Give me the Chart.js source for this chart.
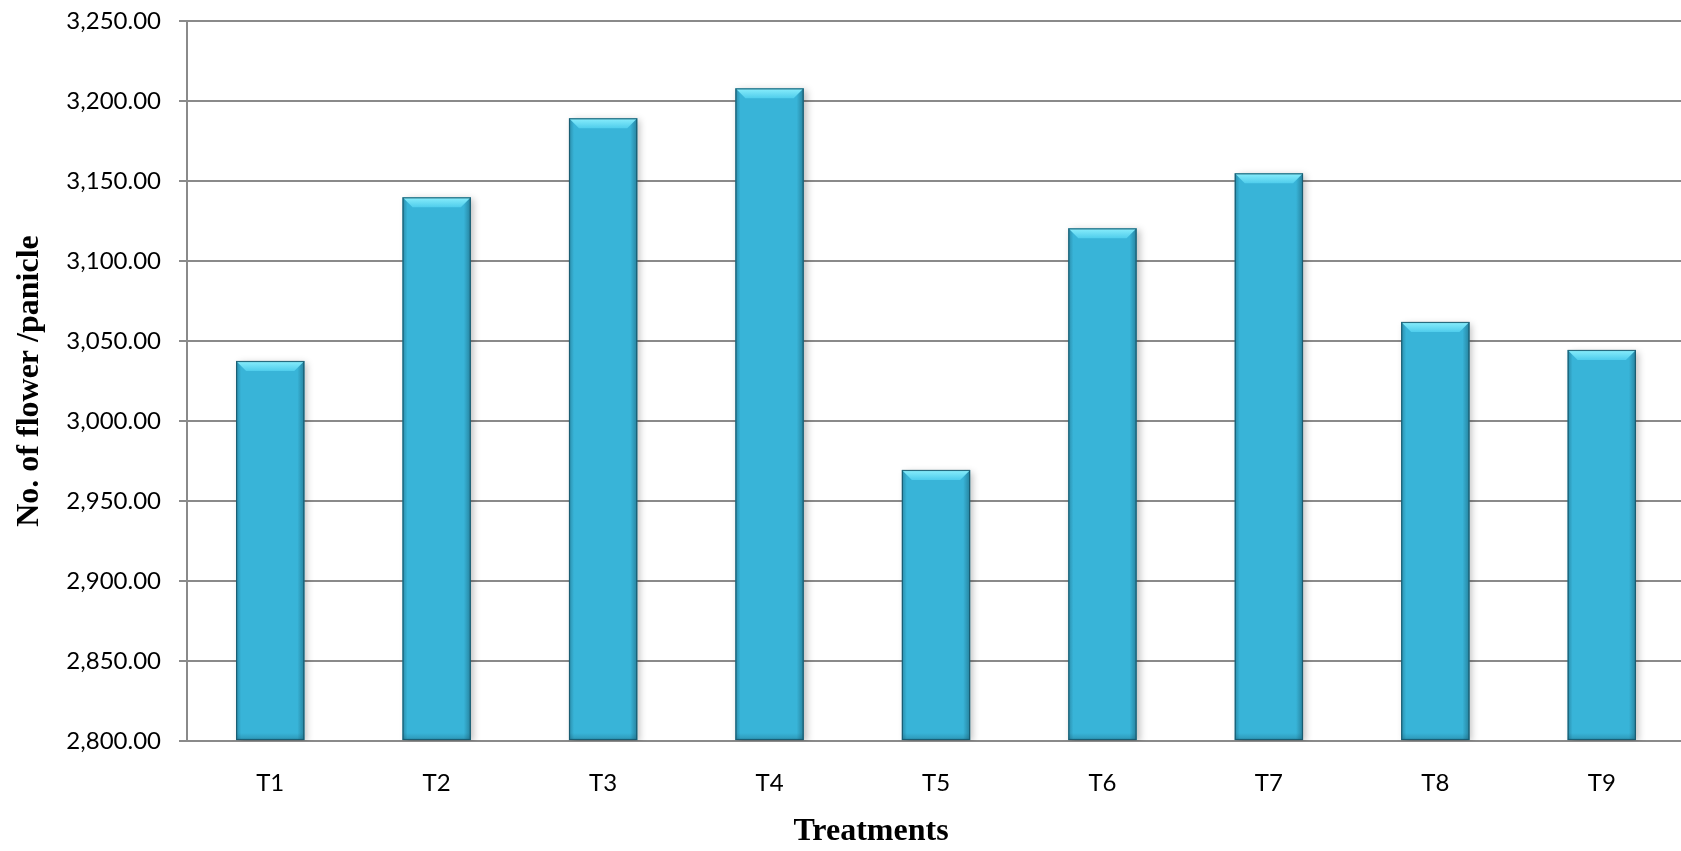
<!DOCTYPE html>
<html>
<head>
<meta charset="utf-8">
<title>No. of flower /panicle</title>
<script src="https://cdn.jsdelivr.net/npm/chart.js@4"></script>
<style>
    html, body { margin: 0; padding: 0; background: #fff; overflow: hidden; }
    #wrap { position: relative; width: 1742px; height: 851px; }
</style>
</head>
<body>
<div id="wrap"><canvas id="flowerChart"></canvas></div>
<script>
// values
const treatments = ['T1', 'T2', 'T3', 'T4', 'T5', 'T6', 'T7', 'T8', 'T9'];
const flowersPerPanicle = [3037.5, 3139.8, 3189.2, 3207.9, 2969.4, 3120.4, 3154.8, 3061.9, 3044.4];
const yMin = 2800;
const yMax = 3250;
const yStep = 50;

const GRID = '#8a8a8a';
const TICK_FONT = { family: 'Lato, "Open Sans", sans-serif', size: 24 };
const TITLE_FONT = { family: '"Liberation Serif", "DejaVu Serif", serif', size: 32, weight: 'bold' };

function fmt(v) {
    return Number(v).toLocaleString('en-US', { minimumFractionDigits: 2, maximumFractionDigits: 2 });
}

// vertical gradient per bar, from its top down to the base
function barFill(ctx) {
    const el = ctx.element;
    const c = ctx.chart.ctx;
    if (!el || !isFinite(el.y) || !isFinite(el.base) || el.base === el.y) return '#38b4d8';
    const g = c.createLinearGradient(0, el.y, 0, el.base);
    g.addColorStop(0, '#3fc1e5');
    g.addColorStop(0.4, '#3bb8dc');
    g.addColorStop(1, '#2f92ad');
    return g;
}

// bevel, side shading and soft shadow like the office "bevel" bars
const bevelPlugin = {
    id: 'bevel',
    beforeDatasetDraw(chart) {
        const c = chart.ctx;
        c.save();
        c.shadowColor = 'rgba(0,0,0,0.25)';
        c.shadowBlur = 7;
        c.shadowOffsetX = 3;
        c.shadowOffsetY = 2;
    },
    afterDatasetDraw(chart, args) {
        const c = chart.ctx;
        c.restore();
        args.meta.data.forEach(bar => {
            const l = bar.x - bar.width / 2, r = bar.x + bar.width / 2;
            const t = bar.y, b = Math.min(bar.base, chart.chartArea.bottom);
            const bv = 10;
            c.save();
            // right edge shade
            let g = c.createLinearGradient(r - 7, 0, r, 0);
            g.addColorStop(0, 'rgba(20,80,100,0)');
            g.addColorStop(1, 'rgba(20,80,100,0.5)');
            c.fillStyle = g;
            c.fillRect(r - 7, t, 7, b - t);
            // left edge shade
            g = c.createLinearGradient(l, 0, l + 5, 0);
            g.addColorStop(0, 'rgba(20,80,100,0.4)');
            g.addColorStop(1, 'rgba(20,80,100,0)');
            c.fillStyle = g;
            c.fillRect(l, t, 5, b - t);
            // bottom edge shade
            g = c.createLinearGradient(0, b - 7, 0, b);
            g.addColorStop(0, 'rgba(20,80,100,0)');
            g.addColorStop(1, 'rgba(20,80,100,0.3)');
            c.fillStyle = g;
            c.fillRect(l, b - 7, r - l, 7);
            // top bevel
            g = c.createLinearGradient(0, t, 0, t + bv);
            g.addColorStop(0, '#8aeefc');
            g.addColorStop(1, '#4fcdec');
            c.fillStyle = g;
            c.beginPath();
            c.moveTo(l, t);
            c.lineTo(r, t);
            c.lineTo(r - bv, t + bv);
            c.lineTo(l + bv, t + bv);
            c.closePath();
            c.fill();
            // outline
            c.strokeStyle = 'rgba(22,85,105,0.85)';
            c.lineWidth = 1.2;
            c.strokeRect(l + 0.5, t + 0.5, r - l - 1, b - t - 1);
            c.restore();
        });
    }
};

function init() {
    new Chart(document.getElementById('flowerChart'), {
        type: 'bar',
        data: {
            labels: treatments,
            datasets: [{
                data: flowersPerPanicle,
                base: yMin,
                backgroundColor: barFill,
                borderWidth: 0,
                categoryPercentage: 1,
                barPercentage: 0.41
            }]
        },
        options: {
            responsive: true,
            maintainAspectRatio: false,
            animation: false,
            events: [],
            layout: { padding: { top: 21, left: 0, right: 0, bottom: 0 } },
            plugins: {
                legend: { display: false },
                tooltip: { enabled: false },
                title: {
                    display: true,
                    position: 'bottom',
                    text: 'Treatments',
                    color: '#000',
                    font: TITLE_FONT,
                    padding: { top: 10, bottom: 0 }
                }
            },
            scales: {
                x: {
                    offset: true,
                    grid: { display: false, drawTicks: false },
                    border: { display: true, color: GRID, width: 2 },
                    ticks: { color: '#000', font: TICK_FONT, padding: 28, maxRotation: 0 },
                    afterFit: s => { s.height = 61.6; }
                },
                y: {
                    min: yMin,
                    max: yMax,
                    grid: { color: GRID, lineWidth: 2, tickLength: 8, drawTicks: true },
                    border: { display: true, color: GRID, width: 2 },
                    ticks: { stepSize: yStep, color: '#000', font: TICK_FONT, padding: 18, callback: v => fmt(v) },
                    title: {
                        display: true,
                        text: 'No. of flower /panicle',
                        color: '#000',
                        font: TITLE_FONT,
                        padding: { top: 11, bottom: 0 }
                    },
                    afterFit: s => {
                        s.width = 187;
                        s.paddingTop = 0;
                        s.paddingBottom = 0;
                    }
                },
                // empty right-hand axis: keeps the bottom title centred where the reference has it
                y2: {
                    position: 'right',
                    display: true,
                    grid: { display: false, drawTicks: false },
                    border: { display: false },
                    ticks: { display: false },
                    afterFit: s => {
                        s.width = 57;
                        s.paddingTop = 0;
                        s.paddingBottom = 0;
                    }
                }
            }
        },
        plugins: [bevelPlugin]
    });
}

document.addEventListener('DOMContentLoaded', init);
</script>
</body>
</html>
